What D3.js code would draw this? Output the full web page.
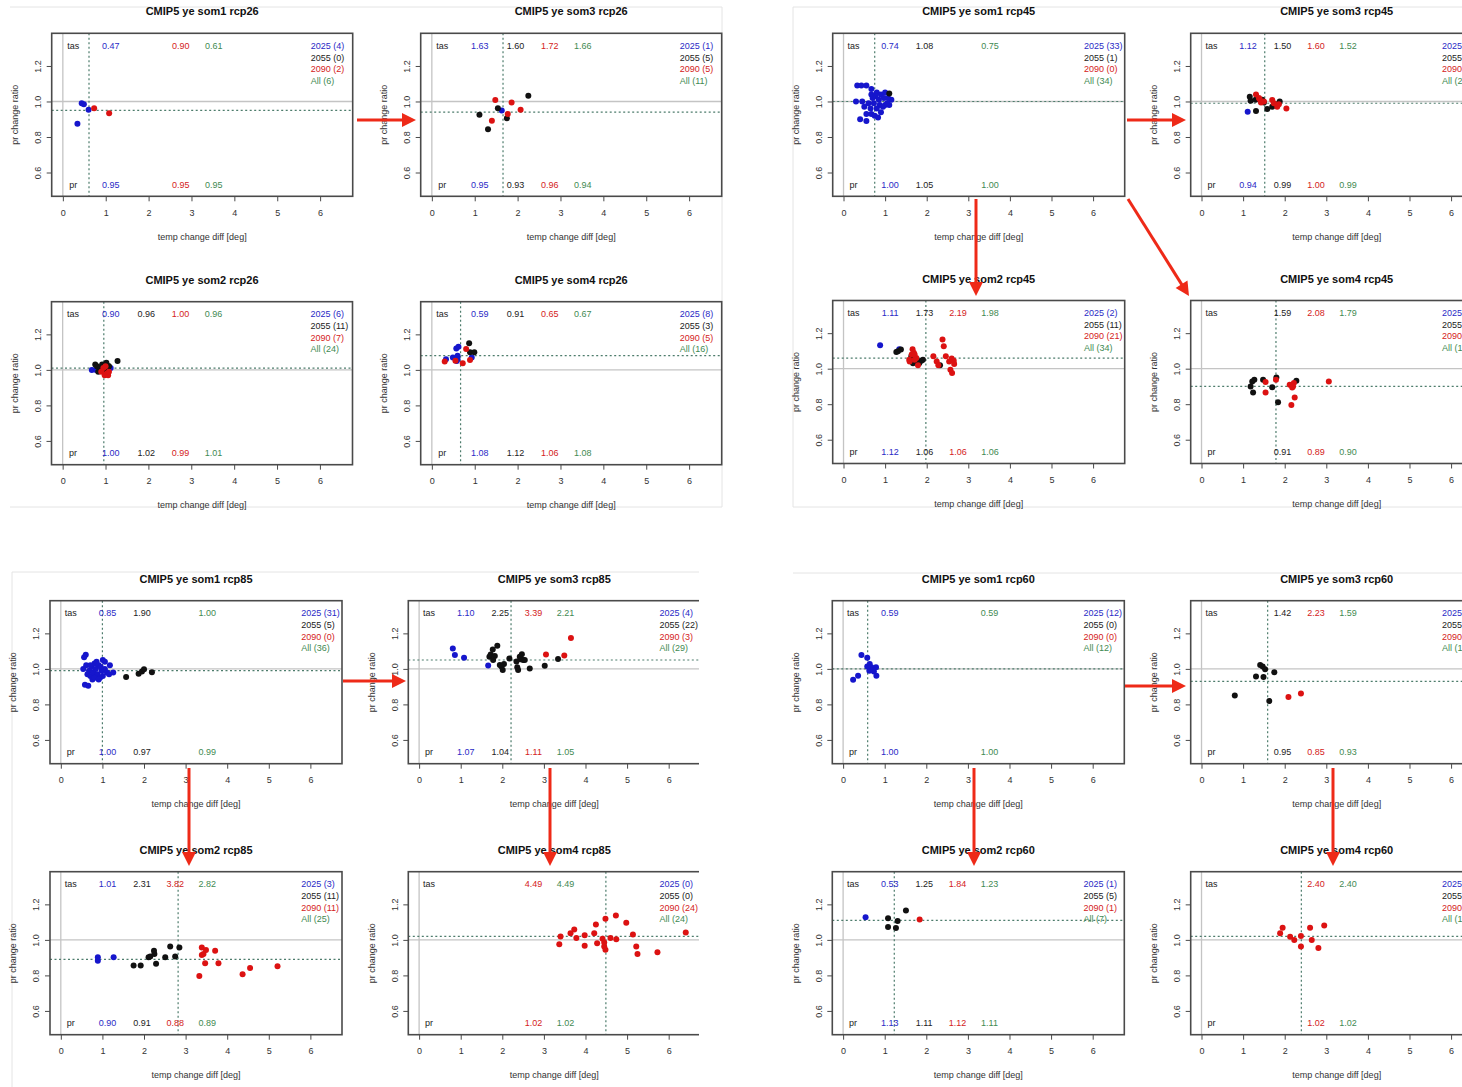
<!DOCTYPE html>
<html>
<head>
<meta charset="utf-8">
<script src="https://cdn.jsdelivr.net/npm/d3@7"></script>
<style>
body { margin: 0; background: #fff; }
svg { display: block; font-family: "Liberation Sans", Arial, sans-serif; }
</style>
</head>
<body>
<div id="chart"></div>
<script>
// axis ticks
var xTicks = [0, 1, 2, 3, 4, 5, 6];
var yTicks = [0.6, 0.8, 1.0, 1.2];
var groupNames = ['2025', '2055', '2090', 'All'];

// panels, in drawing order
var panelRcp = ['rcp26', 'rcp26', 'rcp26', 'rcp26', 'rcp45', 'rcp45', 'rcp45', 'rcp45',
                'rcp85', 'rcp85', 'rcp85', 'rcp85', 'rcp60', 'rcp60', 'rcp60', 'rcp60'];
var panelSom = ['som1', 'som3', 'som2', 'som4', 'som1', 'som3', 'som2', 'som4',
                'som1', 'som3', 'som2', 'som4', 'som1', 'som3', 'som2', 'som4'];

// mean tas change per group (2025, 2055, 2090, All), null = no members
var tasMeans = [
  [0.47, null, 0.90, 0.61], [1.63, 1.60, 1.72, 1.66], [0.90, 0.96, 1.00, 0.96], [0.59, 0.91, 0.65, 0.67],
  [0.74, 1.08, null, 0.75], [1.12, 1.50, 1.60, 1.52], [1.11, 1.73, 2.19, 1.98], [null, 1.59, 2.08, 1.79],
  [0.85, 1.90, null, 1.00], [1.10, 2.25, 3.39, 2.21], [1.01, 2.31, 3.82, 2.82], [null, null, 4.49, 4.49],
  [0.59, null, null, 0.59], [null, 1.42, 2.23, 1.59], [0.53, 1.25, 1.84, 1.23], [null, null, 2.40, 2.40]
];
// mean pr change ratio per group
var prMeans = [
  [0.95, null, 0.95, 0.95], [0.95, 0.93, 0.96, 0.94], [1.00, 1.02, 0.99, 1.01], [1.08, 1.12, 1.06, 1.08],
  [1.00, 1.05, null, 1.00], [0.94, 0.99, 1.00, 0.99], [1.12, 1.06, 1.06, 1.06], [null, 0.91, 0.89, 0.90],
  [1.00, 0.97, null, 0.99], [1.07, 1.04, 1.11, 1.05], [0.90, 0.91, 0.88, 0.89], [null, null, 1.02, 1.02],
  [1.00, null, null, 1.00], [null, 0.95, 0.85, 0.93], [1.13, 1.11, 1.12, 1.11], [null, null, 1.02, 1.02]
];
// member counts per group
var counts = [
  [4, 0, 2, 6], [1, 5, 5, 11], [6, 11, 7, 24], [8, 3, 5, 16],
  [33, 1, 0, 34], [1, 10, 10, 21], [2, 11, 21, 34], [0, 9, 10, 19],
  [31, 5, 0, 36], [4, 22, 3, 29], [3, 11, 11, 25], [0, 0, 24, 24],
  [12, 0, 0, 12], [0, 8, 2, 10], [1, 5, 1, 7], [0, 0, 10, 10]
];

// points: [period, temp change diff, pr change ratio]
var rcp26_som1 = [
  [2025, 0.44, 0.99], [2025, 0.49, 0.985], [2025, 0.34, 0.874], [2025, 0.60, 0.953],
  [2090, 0.73, 0.962], [2090, 1.08, 0.934]
];
var rcp26_som3 = [
  [2025, 1.63, 0.949],
  [2055, 1.11, 0.925], [2055, 1.31, 0.843], [2055, 1.54, 0.962], [2055, 1.75, 0.906], [2055, 2.25, 1.032],
  [2090, 1.48, 1.009], [2090, 1.40, 0.892], [2090, 1.77, 0.930], [2090, 1.86, 0.994], [2090, 2.07, 0.953]
];
var rcp26_som2 = [
  [2025, 0.68, 1.00], [2025, 0.78, 1.00], [2025, 0.86, 0.995], [2025, 0.95, 1.005], [2025, 1.02, 0.99], [2025, 1.12, 1.01],
  [2055, 0.76, 1.03], [2055, 0.80, 1.02], [2055, 0.83, 0.99], [2055, 0.88, 1.01], [2055, 0.92, 1.03], [2055, 0.97, 1.00],
  [2055, 1.02, 1.04], [2055, 1.08, 1.02], [2055, 1.28, 1.05], [2055, 0.95, 1.01], [2055, 1.07, 1.02],
  [2090, 0.90, 0.99], [2090, 0.95, 1.01], [2090, 0.98, 0.97], [2090, 1.00, 1.02], [2090, 1.03, 0.98], [2090, 1.06, 0.97], [2090, 1.08, 0.99]
];
var rcp26_som4 = [
  [2025, 0.33, 1.06], [2025, 0.49, 1.07], [2025, 0.57, 1.12], [2025, 0.62, 1.13], [2025, 0.58, 1.05],
  [2025, 0.60, 1.08], [2025, 0.93, 1.07], [2025, 0.60, 1.06],
  [2055, 0.87, 1.15], [2055, 0.89, 1.10], [2055, 0.99, 1.10],
  [2090, 0.30, 1.047], [2090, 0.55, 1.052], [2090, 0.72, 1.037], [2090, 0.80, 1.118], [2090, 0.89, 1.056]
];
var rcp45_som1 = [
  [2025, 0.33, 1.09], [2025, 0.43, 1.09], [2025, 0.55, 1.09], [2025, 0.67, 1.07],
  [2025, 0.67, 1.04], [2025, 0.80, 1.05], [2025, 0.90, 1.04], [2025, 1.00, 1.05], [2025, 0.77, 1.03],
  [2025, 0.70, 1.02], [2025, 0.85, 1.01], [2025, 0.97, 1.02], [2025, 1.07, 1.02], [2025, 1.15, 1.01],
  [2025, 0.30, 1.00], [2025, 0.45, 1.00], [2025, 0.60, 0.99], [2025, 0.73, 0.99], [2025, 0.87, 0.98],
  [2025, 1.00, 0.98], [2025, 1.10, 0.98],
  [2025, 0.50, 0.97], [2025, 0.65, 0.96], [2025, 0.80, 0.96], [2025, 0.95, 0.97],
  [2025, 0.55, 0.93], [2025, 0.67, 0.93], [2025, 0.90, 0.94], [2025, 0.75, 0.92],
  [2025, 0.40, 0.90], [2025, 0.55, 0.89], [2025, 0.83, 0.91], [2025, 1.05, 0.99],
  [2055, 1.10, 1.045]
];
var rcp45_som3 = [
  [2025, 1.11, 0.942],
  [2055, 1.16, 1.026], [2055, 1.18, 1.004], [2055, 1.30, 1.01], [2055, 1.31, 0.947], [2055, 1.46, 1.01],
  [2055, 1.50, 0.994], [2055, 1.58, 0.957], [2055, 1.70, 0.97], [2055, 1.78, 0.985], [2055, 1.88, 1.00],
  [2090, 1.31, 1.04], [2090, 1.40, 1.013], [2090, 1.43, 0.994], [2090, 1.70, 1.008], [2090, 1.82, 0.97],
  [2090, 2.04, 0.96], [2090, 1.38, 1.02], [2090, 1.50, 1.00], [2090, 1.74, 0.99], [2090, 1.86, 0.985]
];
var rcp45_som2 = [
  [2025, 0.88, 1.132], [2025, 1.34, 1.11],
  [2055, 1.27, 1.094], [2055, 1.31, 1.098], [2055, 1.38, 1.108], [2055, 1.63, 1.07], [2055, 1.71, 1.06],
  [2055, 1.75, 1.04], [2055, 1.87, 1.045], [2055, 1.91, 1.05], [2055, 2.32, 1.019], [2055, 1.67, 1.03], [2055, 1.82, 1.03],
  [2090, 1.58, 1.05], [2090, 1.59, 1.04], [2090, 1.66, 1.11], [2090, 1.69, 1.09], [2090, 1.64, 1.08],
  [2090, 1.71, 1.05], [2090, 1.79, 1.02], [2090, 1.75, 1.06], [2090, 2.16, 1.07], [2090, 2.24, 1.04],
  [2090, 2.28, 1.02], [2090, 2.38, 1.164], [2090, 2.41, 1.126], [2090, 2.46, 1.07], [2090, 2.54, 1.04],
  [2090, 2.60, 1.057], [2090, 2.57, 0.994], [2090, 2.61, 0.975], [2090, 2.65, 1.045], [2090, 2.66, 1.027], [2090, 1.71, 1.08]
];
var rcp45_som4 = [
  [2055, 1.18, 0.90], [2055, 1.22, 0.928], [2055, 1.27, 0.938], [2055, 1.24, 0.866], [2055, 1.48, 0.938],
  [2055, 1.70, 0.896], [2055, 1.80, 0.951], [2055, 1.84, 0.811], [2055, 2.28, 0.932],
  [2090, 1.54, 0.925], [2090, 1.54, 0.866], [2090, 1.79, 0.938], [2090, 2.12, 0.909], [2090, 2.18, 0.894],
  [2090, 2.22, 0.919], [2090, 2.24, 0.838], [2090, 2.16, 0.796], [2090, 3.06, 0.928], [2090, 2.20, 0.90]
];
var rcp85_som1 = [
  [2025, 0.60, 1.08], [2025, 0.56, 1.065], [2025, 0.58, 0.91], [2025, 0.66, 0.905],
  [2025, 0.54, 1.00], [2025, 0.61, 1.02], [2025, 0.68, 0.99], [2025, 0.74, 1.01], [2025, 0.81, 1.03],
  [2025, 0.86, 1.04], [2025, 0.91, 1.02], [2025, 1.01, 1.05], [2025, 1.06, 1.04],
  [2025, 0.64, 0.97], [2025, 0.71, 0.96], [2025, 0.78, 0.98], [2025, 0.84, 1.00], [2025, 0.88, 0.97],
  [2025, 0.94, 0.95], [2025, 0.98, 0.99], [2025, 1.06, 1.00], [2025, 1.11, 0.98], [2025, 1.18, 1.02],
  [2025, 0.76, 0.94], [2025, 0.81, 0.95], [2025, 0.91, 0.94], [2025, 1.01, 0.96], [2025, 1.16, 0.97],
  [2025, 1.26, 0.98], [2025, 0.71, 1.02], [2025, 0.96, 1.01],
  [2055, 1.57, 0.954], [2055, 1.87, 0.972], [2055, 1.95, 0.985], [2055, 2.00, 0.998], [2055, 2.19, 0.981]
];
var rcp85_som3 = [
  [2025, 0.81, 1.115], [2025, 0.86, 1.078], [2025, 1.08, 1.063], [2025, 1.66, 1.019],
  [2055, 1.69, 1.069], [2055, 1.72, 1.081], [2055, 1.77, 1.109], [2055, 1.82, 1.072], [2055, 1.88, 1.13],
  [2055, 1.94, 1.022], [2055, 1.98, 1.013], [2055, 2.01, 0.994], [2055, 2.04, 1.028], [2055, 2.17, 1.059],
  [2055, 2.36, 1.009], [2055, 2.38, 0.994], [2055, 2.42, 1.069], [2055, 2.44, 1.054], [2055, 2.47, 1.083],
  [2055, 2.50, 1.05], [2055, 2.54, 1.05], [2055, 2.66, 1.002], [2055, 3.02, 1.017], [2055, 3.34, 1.056],
  [2055, 2.34, 1.041], [2055, 1.78, 1.05],
  [2090, 3.05, 1.081], [2090, 3.49, 1.076], [2090, 3.65, 1.174]
];
var rcp85_som2 = [
  [2025, 0.89, 0.902], [2025, 0.89, 0.883], [2025, 1.27, 0.902],
  [2055, 1.75, 0.856], [2055, 1.92, 0.856], [2055, 2.11, 0.902], [2055, 2.15, 0.906], [2055, 2.24, 0.939],
  [2055, 2.25, 0.920], [2055, 2.29, 0.865], [2055, 2.51, 0.902], [2055, 2.63, 0.963], [2055, 2.75, 0.906], [2055, 2.85, 0.957],
  [2090, 3.33, 0.796], [2090, 3.39, 0.915], [2090, 3.39, 0.957], [2090, 3.47, 0.869], [2090, 3.49, 0.943],
  [2090, 3.71, 0.939], [2090, 3.79, 0.869], [2090, 4.37, 0.807], [2090, 4.55, 0.841], [2090, 5.21, 0.852], [2090, 3.43, 0.92]
];
var rcp85_som4 = [
  [2090, 3.37, 0.976], [2090, 3.40, 1.019], [2090, 3.64, 1.037], [2090, 3.73, 1.059], [2090, 3.78, 1.011],
  [2090, 3.98, 1.026], [2090, 3.98, 0.967], [2090, 4.21, 1.037], [2090, 4.25, 1.087], [2090, 4.28, 0.981],
  [2090, 4.41, 1.007], [2090, 4.45, 0.963], [2090, 4.48, 1.119], [2090, 4.48, 0.944], [2090, 4.60, 1.011],
  [2090, 4.73, 1.137], [2090, 4.74, 1.004], [2090, 4.98, 1.096], [2090, 5.14, 1.030], [2090, 5.22, 0.963],
  [2090, 5.25, 0.920], [2090, 5.73, 0.930], [2090, 6.41, 1.041], [2090, 4.45, 0.985]
];
var rcp60_som1 = [
  [2025, 0.24, 0.939], [2025, 0.36, 0.961], [2025, 0.44, 1.078], [2025, 0.58, 1.063], [2025, 0.58, 1.013],
  [2025, 0.64, 1.028], [2025, 0.68, 1.009], [2025, 0.63, 0.989], [2025, 0.74, 0.985], [2025, 0.79, 1.009],
  [2025, 0.80, 0.961], [2025, 0.71, 0.994]
];
var rcp60_som3 = [
  [2055, 0.80, 0.85], [2055, 1.31, 0.957], [2055, 1.41, 1.022], [2055, 1.47, 1.013], [2055, 1.53, 0.998],
  [2055, 1.49, 0.954], [2055, 1.63, 0.819], [2055, 1.75, 0.981],
  [2090, 2.09, 0.841], [2090, 2.39, 0.861]
];
var rcp60_som2 = [
  [2025, 0.54, 1.128],
  [2055, 1.08, 1.122], [2055, 1.08, 1.072], [2055, 1.27, 1.067], [2055, 1.31, 1.106], [2055, 1.51, 1.165],
  [2090, 1.84, 1.115]
];
var rcp60_som4 = [
  [2090, 1.89, 1.037], [2090, 1.95, 1.069], [2090, 2.13, 1.017], [2090, 2.23, 1.00], [2090, 2.39, 1.022],
  [2090, 2.39, 0.963], [2090, 2.61, 1.069], [2090, 2.65, 1.00], [2090, 2.81, 0.954], [2090, 2.95, 1.081]
];
var panelPoints = [rcp26_som1, rcp26_som3, rcp26_som2, rcp26_som4, rcp45_som1, rcp45_som3, rcp45_som2, rcp45_som4,
                   rcp85_som1, rcp85_som3, rcp85_som2, rcp85_som4, rcp60_som1, rcp60_som3, rcp60_som2, rcp60_som4];

// layout: [box left, box top, box width] for each panel
var panelPos = [
  [51.7, 33.3, 301], [420.7, 33.3, 301], [51.5, 301.7, 301], [420.7, 301.7, 301],
  [832.7, 33.3, 292], [1190.7, 33.3, 292], [832.7, 300.5, 292], [1190.7, 300.5, 292],
  [50, 600.7, 292], [408.3, 600.7, 292], [50, 871.7, 292], [408.3, 871.7, 292],
  [832.3, 600.7, 292], [1190.7, 600.7, 292], [832.3, 871.7, 292], [1190.7, 871.7, 292]
];
var panelH = 163;
var xDomain = [-0.26, 6.76];
var yDomain = [0.466, 1.384];
var colX = [1.12, 1.95, 2.75, 3.52];  // columns of the tas / pr numbers
var legendX = 5.78;

//colors
var pointColor = {2025: '#1616cc', 2055: '#111111', 2090: '#dc1212'};
var textColor = ['#2a2ac6', '#222222', '#d42222', '#3f8a52'];
var frame = '#4a4a4a';
var refLine = '#c4c4c4';
var meanLine = '#4d7c6c';
var arrowColor = '#ee2a18';

var width = 1462, height = 1087;

var svg = d3.select('#chart')
  .append('svg')
  .attr('width', width)
  .attr('height', height);

// faint frames of the four screenshots
var frames = [
  [10, 7, 722, 7], [722, 7, 722, 507], [10, 507, 722, 507],
  [793, 7, 1462, 7], [793, 7, 793, 507], [793, 507, 1462, 507],
  [12, 572, 699, 572], [12, 572, 12, 1087],
  [793, 573, 1462, 573]
];
svg.append('g').selectAll('line')
  .data(frames)
  .enter().append('line')
  .attr('x1', function(d) { return d[0]; })
  .attr('y1', function(d) { return d[1]; })
  .attr('x2', function(d) { return d[2]; })
  .attr('y2', function(d) { return d[3]; })
  .style('stroke', '#e4e4e4')
  .style('stroke-width', 1);

// the bottom-left screenshot is cut at its right side
svg.append('clipPath').attr('id', 'cutLeft')
  .append('rect').attr('x', 0).attr('y', 0).attr('width', 699).attr('height', height);

var fmt2 = d3.format('.2f');

function drawPanel(g, i) {
  var left = panelPos[i][0], top = panelPos[i][1], w = panelPos[i][2];
  var bottom = top + panelH;
  var x = d3.scaleLinear().domain(xDomain).range([left, left + w]);
  var y = d3.scaleLinear().domain(yDomain).range([bottom, top]);

  // title
  g.append('text')
    .attr('x', left + w / 2)
    .attr('y', top - 18)
    .attr('text-anchor', 'middle')
    .style('font-size', '11px')
    .style('font-weight', 'bold')
    .style('fill', '#111')
    .text('CMIP5 ye ' + panelSom[i] + ' ' + panelRcp[i]);

  // reference lines at 0 and 1
  g.append('line')
    .attr('x1', left).attr('x2', left + w)
    .attr('y1', y(1)).attr('y2', y(1))
    .style('stroke', refLine).style('stroke-width', 1.3);
  g.append('line')
    .attr('x1', x(0)).attr('x2', x(0))
    .attr('y1', top).attr('y2', bottom)
    .style('stroke', refLine).style('stroke-width', 1.3);

  // mean of all members
  var allTas = tasMeans[i][3], allPr = prMeans[i][3];
  g.append('line')
    .attr('x1', left).attr('x2', left + w)
    .attr('y1', y(allPr)).attr('y2', y(allPr))
    .style('stroke', meanLine).style('stroke-width', 1.2)
    .style('stroke-dasharray', '2,2.5');
  g.append('line')
    .attr('x1', x(allTas)).attr('x2', x(allTas))
    .attr('y1', top).attr('y2', bottom)
    .style('stroke', meanLine).style('stroke-width', 1.2)
    .style('stroke-dasharray', '2,2.5');

  // points
  g.append('g').selectAll('circle')
    .data(panelPoints[i])
    .enter().append('circle')
    .attr('cx', function(d) { return x(d[1]); })
    .attr('cy', function(d) { return y(d[2]); })
    .attr('r', 3)
    .style('fill', function(d) { return pointColor[d[0]]; });

  // tas / pr numbers
  g.append('text').attr('x', x(0.24)).attr('y', top + 15.5)
    .attr('text-anchor', 'middle').style('font-size', '9px').style('fill', '#222').text('tas');
  g.append('text').attr('x', x(0.24)).attr('y', bottom - 8.5)
    .attr('text-anchor', 'middle').style('font-size', '9px').style('fill', '#222').text('pr');
  for (var k = 0; k < 4; k++) {
    if (tasMeans[i][k] !== null) {
      g.append('text').attr('x', x(colX[k])).attr('y', top + 15.5)
        .attr('text-anchor', 'middle').style('font-size', '9px').style('fill', textColor[k])
        .text(fmt2(tasMeans[i][k]));
    }
    if (prMeans[i][k] !== null) {
      g.append('text').attr('x', x(colX[k])).attr('y', bottom - 8.5)
        .attr('text-anchor', 'middle').style('font-size', '9px').style('fill', textColor[k])
        .text(fmt2(prMeans[i][k]));
    }
    // legend with member counts
    g.append('text').attr('x', x(legendX)).attr('y', top + 15.5 + k * 11.7)
      .style('font-size', '9px').style('fill', textColor[k])
      .text(groupNames[k] + ' (' + counts[i][k] + ')');
  }

  // axes
  var xAxis = g.append('g')
    .attr('transform', 'translate(0,' + bottom + ')')
    .call(d3.axisBottom(x).tickValues(xTicks).tickSize(5).tickPadding(8.4).tickFormat(d3.format('d')));
  var yAxis = g.append('g')
    .attr('transform', 'translate(' + left + ',0)')
    .call(d3.axisLeft(y).tickValues(yTicks).tickSize(5).tickFormat(d3.format('.1f')));
  [xAxis, yAxis].forEach(function(a) {
    a.select('.domain').remove();
    a.selectAll('line').style('stroke', frame).style('stroke-width', 1);
    a.selectAll('text').style('font-size', '9px').style('fill', '#333')
      .style('font-family', '"Liberation Sans", Arial, sans-serif');
  });
  yAxis.selectAll('text')
    .attr('x', null).attr('dy', null)
    .attr('text-anchor', 'middle')
    .attr('transform', 'translate(-10.8,0) rotate(-90)');

  // axis titles
  g.append('text')
    .attr('x', left + w / 2).attr('y', bottom + 43.2)
    .attr('text-anchor', 'middle').style('font-size', '9px').style('fill', '#333')
    .text('temp change diff [deg]');
  g.append('text')
    .attr('transform', 'translate(' + (left - 33.8) + ',' + (top + panelH / 2) + ') rotate(-90)')
    .attr('text-anchor', 'middle').style('font-size', '9px').style('fill', '#333')
    .text('pr change ratio');

  // plot box
  g.append('rect')
    .attr('x', left).attr('y', top)
    .attr('width', w).attr('height', panelH)
    .style('fill', 'none').style('stroke', frame).style('stroke-width', 1.6);
}

for (var i = 0; i < panelPos.length; i++) {
  var g = svg.append('g').attr('class', 'panel');
  if (panelRcp[i] === 'rcp85') g.attr('clip-path', 'url(#cutLeft)');
  drawPanel(g, i);
}

// red arrows between panels: [x1, y1, x2, y2]
var arrows = [
  [357, 120, 416, 120], [1127, 120, 1186, 120],
  [976, 199, 976, 296], [1128, 199, 1189, 296],
  [343, 681, 406, 681], [189, 768, 189, 866], [550, 768, 550, 866],
  [1125, 686, 1186, 686], [974, 768, 974, 866], [1333, 768, 1333, 866]
];

function arrowHead(d) {
  var dx = d[2] - d[0], dy = d[3] - d[1];
  var len = Math.sqrt(dx * dx + dy * dy);
  var ux = dx / len, uy = dy / len;
  var hl = 14, hw = 7;
  var bx = d[2] - ux * hl, by = d[3] - uy * hl;
  return [[d[2], d[3]], [bx - uy * hw, by + ux * hw], [bx + uy * hw, by - ux * hw]];
}

var arrowG = svg.append('g');
arrowG.selectAll('line')
  .data(arrows)
  .enter().append('line')
  .attr('x1', function(d) { return d[0]; })
  .attr('y1', function(d) { return d[1]; })
  .attr('x2', function(d) { return d[2] - (d[2] - d[0]) * 12 / Math.hypot(d[2] - d[0], d[3] - d[1]); })
  .attr('y2', function(d) { return d[3] - (d[3] - d[1]) * 12 / Math.hypot(d[2] - d[0], d[3] - d[1]); })
  .style('stroke', arrowColor)
  .style('stroke-width', 3);
arrowG.selectAll('path')
  .data(arrows)
  .enter().append('path')
  .attr('d', function(d) { return d3.line()(arrowHead(d)) + 'Z'; })
  .style('fill', arrowColor);
</script>
</body>
</html>
